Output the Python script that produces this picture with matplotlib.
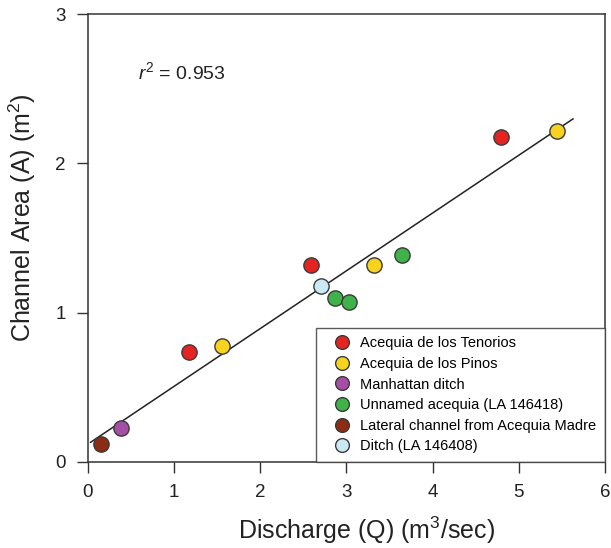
import numpy as np
import matplotlib
matplotlib.use("Agg")
from matplotlib import pyplot as plt

plt.rcParams['font.family'] = ['Liberation Sans', 'DejaVu Sans']
plt.rcParams['mathtext.fontset'] = 'custom'
plt.rcParams['mathtext.rm'] = 'Liberation Sans'
plt.rcParams['mathtext.it'] = 'Liberation Sans:italic'

# discharge (m3/sec) and channel area (m2) for each ditch
SERIES = [
    "Acequia de los Tenorios",
    "Acequia de los Pinos",
    "Manhattan ditch",
    "Unnamed acequia (LA 146418)",
    "Lateral channel from Acequia Madre",
    "Ditch (LA 146408)",
]
COLOURS = ["#e52421", "#f7d21e", "#a44ea6", "#3fb34a", "#8c2c14", "#cbe8f5"]

tenorios_q = [1.17, 2.59, 4.79]
tenorios_a = [0.74, 1.32, 2.18]
pinos_q = [1.55, 3.32, 5.44]
pinos_a = [0.78, 1.32, 2.22]
manhattan_q = [0.38]
manhattan_a = [0.23]
unnamed_q = [2.87, 3.03, 3.64]
unnamed_a = [1.10, 1.07, 1.39]
lateral_q = [0.15]
lateral_a = [0.12]
ditch_q = [2.71]
ditch_a = [1.18]

# regression line
FIT_SLOPE = 0.387
FIT_INTERCEPT = 0.12
FIT_RANGE = [0.03, 5.63]
R2 = 0.953

X_TICKS = [0, 1, 2, 3, 4, 5, 6]
Y_TICKS = [0, 1, 2, 3]

fig = plt.figure(figsize=(6.11, 5.48), dpi=100)
ax = fig.add_axes([0.144, 0.157, 0.846, 0.817])

fit_x = np.array(FIT_RANGE)
ax.plot(fit_x, FIT_SLOPE * fit_x + FIT_INTERCEPT, color="#222222", lw=1.1, zorder=2)

groups = [
    (tenorios_q, tenorios_a),
    (pinos_q, pinos_a),
    (manhattan_q, manhattan_a),
    (unnamed_q, unnamed_a),
    (lateral_q, lateral_a),
    (ditch_q, ditch_a),
]
for (q, a), name, col in zip(groups, SERIES, COLOURS):
    ax.plot(q, a, "o", ms=11, mfc=col, mec="#3a3a3a", mew=1.0,
            ls="none", label=name, zorder=3)

ax.text(0.58, 2.61, r"$r^2$ = %.3f" % R2, fontsize=14, color="#222222",
        va="center", ha="left")

ax.set_xlim(0, 6)
ax.set_ylim(0, 3)
ax.set_xticks(X_TICKS)
ax.set_yticks(Y_TICKS)
ax.tick_params(direction="out", length=8, width=1.0, color="#333333",
               labelsize=13.5, labelcolor="#222222", pad=8)
for s in ax.spines.values():
    s.set_color("#333333")
    s.set_linewidth(1.1)

ax.set_xlabel("Discharge (Q) (m$^3$/sec)", fontsize=18, color="#222222")
ax.set_ylabel("Channel Area (A) (m$^2$)", fontsize=18, color="#222222")
ax.xaxis.set_label_coords(0.538, -0.118)
ax.yaxis.set_label_coords(-0.097, 0.545)

leg = ax.legend(loc="lower right", borderaxespad=0, fontsize=10.5, frameon=True,
                fancybox=False, edgecolor="#333333", handletextpad=0.1,
                labelspacing=0.45, borderpad=0.6, handlelength=2.3,
                markerscale=0.9)
leg.get_frame().set_linewidth(1.0)

fig.savefig("out.png", dpi=100)
